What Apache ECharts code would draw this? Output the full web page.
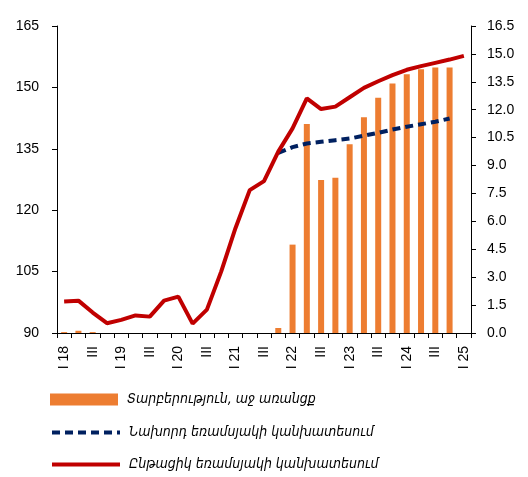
<!DOCTYPE html>
<html>
<head>
<meta charset="utf-8">
<script src="https://cdn.jsdelivr.net/npm/echarts@6/dist/echarts.min.js"></script>
<style>
html,body{margin:0;padding:0;background:#fff;}
#chart{width:528px;height:477px;}
</style>
</head>
<body>
<div id="chart"></div>
<script>
// Quarters 2018Q1 .. 2025Q1
var categories = ['I 18','II 18','III 18','IV 18','I 19','II 19','III 19','IV 19',
  'I 20','II 20','III 20','IV 20','I 21','II 21','III 21','IV 21',
  'I 22','II 22','III 22','IV 22','I 23','II 23','III 23','IV 23',
  'I 24','II 24','III 24','IV 24','I 25'];
var tickLabels = ['I 18','','III','','I 19','','III','',
  'I 20','','III','','I 21','','III','',
  'I 22','','III','','I 23','','III','',
  'I 24','','III','','I 25'];

// Difference, right axis
var difference = [0.05,0.12,0.05,null,null,null,null,null,
  null,null,null,null,null,null,null,0.27,
  4.75,11.23,8.22,8.35,10.14,11.59,12.64,13.41,
  13.91,14.18,14.27,14.27,null];

// Previous quarter forecast
var previousForecast = [null,null,null,null,null,null,null,null,
  null,null,null,null,null,null,null,134.0,
  135.4,136.3,136.7,137.1,137.5,138.2,138.9,139.7,
  140.4,141.0,141.6,142.4,null];

// Current quarter forecast
var currentForecast = [97.7,97.9,95.0,92.4,93.2,94.3,94.0,97.9,
  98.9,92.3,95.7,105.0,115.6,124.9,127.1,134.3,
  140.0,147.3,144.7,145.3,147.6,149.9,151.5,153.0,
  154.3,155.2,156.0,156.8,157.7];

var seriesNames = ['Տարբերություն, աջ առանցք','Նախորդ եռամսյակի կանխատեսում','Ընթացիկ եռամսյակի կանխատեսում'];

var chart = echarts.init(document.getElementById('chart'), null, {renderer:'canvas'});
var font = 'Liberation Sans, Arial, DejaVu Sans, sans-serif';
var legendFont = 'DejaVu Sans Condensed, DejaVu Sans, sans-serif';

function makeLegend(name, top, extra) {
  var item = {name: name};
  for (var k in extra) item[k] = extra[k];
  return {
    orient: 'horizontal',
    left: 45,
    top: top,
    itemWidth: 68,
    itemHeight: 12,
    selectedMode: false,
    lineStyle: {width: 4},
    textStyle: {fontFamily: legendFont, fontStyle: 'italic', fontSize: 14, color: '#000',
      lineHeight: 16, padding: [3,0,0,4]},
    data: [item]
  };
}

var option = {
  animation: false,
  backgroundColor: '#ffffff',
  grid: {left: 57, right: 57, top: 26, bottom: 144, containLabel: false},
  legend: [
    makeLegend(seriesNames[0], 385, {icon: 'rect'}),
    makeLegend(seriesNames[1], 418, {itemStyle: {opacity: 0}}),
    makeLegend(seriesNames[2], 450, {itemStyle: {opacity: 0}})
  ],
  xAxis: {
    type: 'category',
    data: categories,
    boundaryGap: true,
    axisLine: {lineStyle: {color: '#000', width: 1}},
    axisTick: {show: true, interval: 0, length: 5, lineStyle: {color: '#000'}},
    axisLabel: {
      interval: 0, rotate: 90, margin: 13, fontFamily: font, fontSize: 14, color: '#000',
      formatter: function (v, i) { return tickLabels[i]; }
    },
    splitLine: {show: false}
  },
  yAxis: [
    {
      type: 'value', min: 90, max: 165, interval: 15, position: 'left',
      axisLine: {show: true, lineStyle: {color: '#000'}},
      axisTick: {show: true, length: 5, lineStyle: {color: '#000'}},
      axisLabel: {margin: 18, fontFamily: font, fontSize: 14, color: '#000'},
      splitLine: {show: false}
    },
    {
      type: 'value', min: 0, max: 16.5, interval: 1.5, position: 'right',
      axisLine: {show: true, lineStyle: {color: '#000'}},
      axisTick: {show: true, length: 5, lineStyle: {color: '#000'}},
      axisLabel: {margin: 16, fontFamily: font, fontSize: 14, color: '#000',
        formatter: function (v) { return v.toFixed(1); }},
      splitLine: {show: false}
    }
  ],
  series: [
    {
      name: seriesNames[0], type: 'bar', yAxisIndex: 1, data: difference,
      barWidth: 6, itemStyle: {color: '#ED7D31'}
    },
    {
      name: seriesNames[1], type: 'line', yAxisIndex: 0, data: previousForecast,
      symbol: 'none', connectNulls: false,
      lineStyle: {color: '#002060', width: 4, type: [8,5]},
      itemStyle: {color: '#002060'}
    },
    {
      name: seriesNames[2], type: 'line', yAxisIndex: 0, data: currentForecast,
      symbol: 'none',
      lineStyle: {color: '#C00000', width: 4},
      itemStyle: {color: '#C00000'}
    }
  ]
};
chart.setOption(option);
</script>
</body>
</html>
